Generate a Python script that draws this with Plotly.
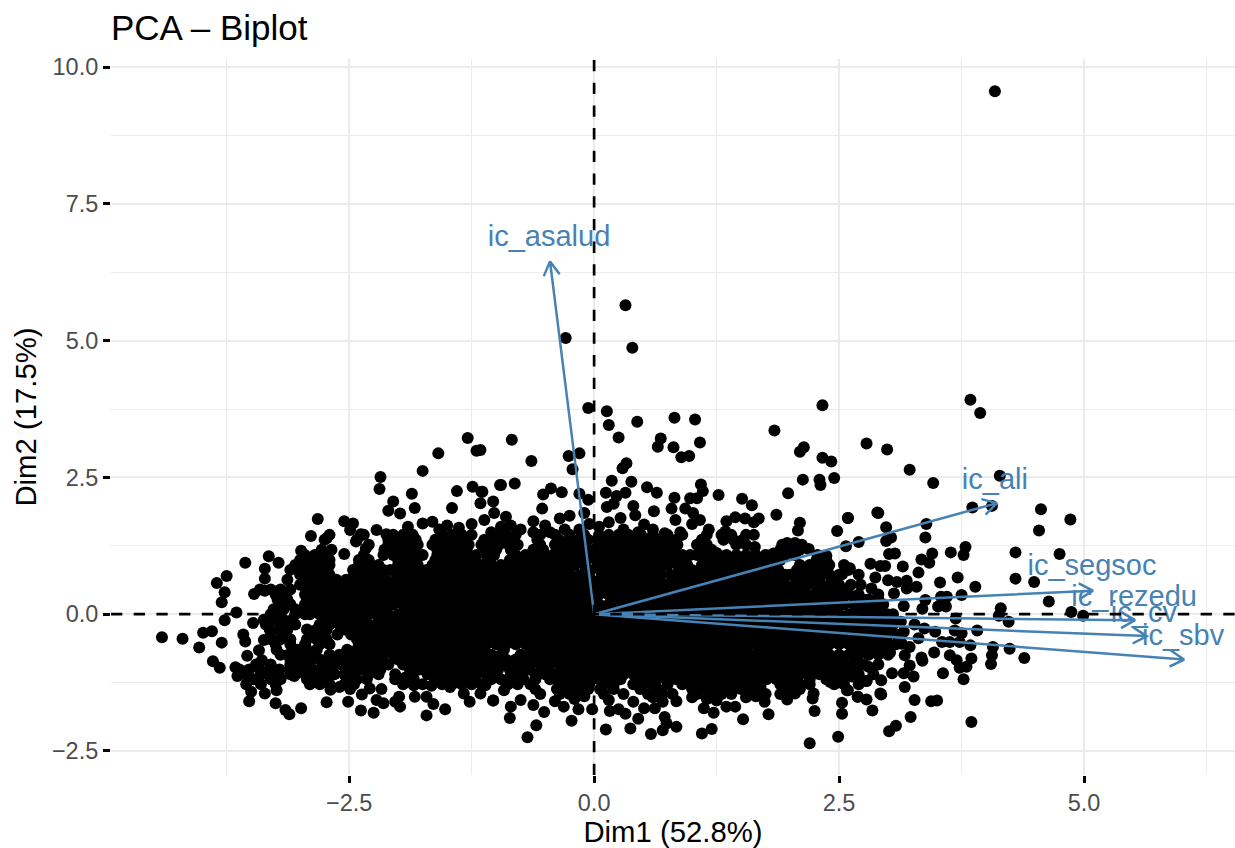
import math
import plotly.graph_objects as go

TITLE = "PCA – Biplot"
X_LABEL = "Dim1 (52.8%)"
Y_LABEL = "Dim2 (17.5%)"
X_RANGE = [-4.93, 6.54]
Y_RANGE = [-2.94, 10.15]
X_TICKS = [-2.5, 0, 2.5, 5]
Y_TICKS = [-2.5, 0, 2.5, 5, 7.5, 10]

var_names = ["ic_asalud", "ic_ali", "ic_segsoc", "ic_rezedu", "ic_cv", "ic_sbv"]
var_dim1 = [-0.45, 4.11, 5.09, 5.52, 5.64, 6.02]
var_dim2 = [6.45, 2.03, 0.43, -0.11, -0.40, -0.83]
label_dim1 = [-0.46, 4.09, 5.08, 5.51, 5.61, 6.01]
label_dim2 = [6.86, 2.43, 0.84, 0.29, -0.01, -0.43]

outliers = [(4.09,9.56),(0.32,5.65),(0.39,4.87),(-0.29,5.05),(3.84,3.92),(3.94,3.68),(2.33,3.82),(1.84,3.36),
(-0.06,3.77),(0.13,3.71),(0.15,3.46),(0.44,3.52),(0.82,3.59),(1.03,3.56),(0.25,3.23),(-0.84,3.19),(-1.16,3.0),(-1.29,3.22),
(2.78,3.12),(2.99,3.01),(3.22,2.64),(3.46,2.40),(4.14,2.53),(3.86,1.95),(4.06,1.98),(4.56,1.92),(4.86,1.73),(4.54,1.53),
(4.30,1.13),(4.75,1.10),(4.30,0.65),(4.49,0.59),(4.64,0.23),(4.87,0.04),(4.99,-0.03),(2.20,-2.36),(2.49,-2.24),(3.85,-1.97)]

left_edge = [(-4.41,-0.42),(-4.20,-0.45),(-4.03,-0.61),(-3.99,-0.34),(-3.90,-0.31),(-3.80,-0.52),(-3.89,-0.86),(-3.82,-0.98),
(-3.77,-0.11),(-3.65,0.03),(-3.80,0.22),(-3.77,0.40),(-3.85,0.57),(-3.75,0.70),(-3.56,0.94),(-3.32,1.06),(-3.22,0.94),(-3.36,0.83),
(-3.36,0.65),(-3.47,0.37),(-3.36,0.43),(-3.25,0.39),(-3.48,-0.16),(-3.58,-0.37),(-3.56,-0.50),(-3.37,-0.47),(-3.42,-0.66),(-3.54,-0.76),
(-3.66,-0.97),(-3.64,-1.13),(-3.53,-1.18),(-3.39,-0.84),(-3.50,-1.42),(-3.52,-1.59),(-3.36,-1.45),(-3.25,-1.63),(-3.15,-1.75),(-3.11,-1.83),
(-2.99,-1.72),(-3.24,-1.39),(-3.22,-1.08),(-3.30,-1.14),(-3.06,-1.13),(-2.73,-1.61),(-2.51,-1.60),(-2.38,-1.76),(-2.25,-1.80),(-2.69,-1.38),
(-2.60,-1.33),(-2.49,-1.37),(-2.37,-1.47),(-2.29,-1.36),(-2.17,-1.37),(-2.22,-1.57),(-2.15,-1.63),(-2.03,-1.60),(-1.98,-1.69),(-1.99,-1.51),
(-1.83,-1.51),(-1.71,-1.51),(-1.64,-1.64),(-1.52,-1.74),(-1.71,-1.85),(-1.66,-1.31),(-1.33,-1.45),(-1.27,-1.60),(-1.16,-1.45),(-1.03,-1.58),
(-1.47,-1.33),(-1.84,-1.30),(-1.93,-1.16),(-2.03,-1.10),(-2.82,1.74),(-2.89,1.43),(-2.73,1.39),(-2.99,1.16),(-2.55,1.70),(-2.46,1.66),
(-2.49,1.54),(-2.38,1.46),(-2.43,1.33),(-2.33,1.20),(-2.55,1.10),(-2.22,1.54),(-2.12,1.46),(-2.18,2.51),(-2.19,2.29),(-1.75,2.62),
(-1.59,2.94),(-1.20,2.99),(-1.86,2.20),(-2.05,2.06),(-1.83,1.94),(-2.10,1.89),(-1.98,1.84),(-1.40,2.25),(-1.24,2.33),(-1.15,2.24),
(-1.16,2.03),(-1.45,1.94),(-1.03,2.06),(-0.96,2.36),(-1.65,1.69),(-1.58,1.55),(-1.50,1.62),(-1.38,1.58),(-1.25,1.65),(-1.12,1.72),
(-1.90,1.60),(-1.75,1.66),(-0.95,1.60),(-0.90,1.78),(-1.02,1.85)]

top_edge = [(-0.64,2.80),(-0.26,2.89),(-0.15,2.94),(-0.22,2.65),(0.68,3.21),(0.65,3.06),(0.81,3.05),(1.08,3.14),(0.89,2.87),(0.97,2.89),
(0.33,2.76),(0.29,2.67),(2.14,3.05),(2.10,2.97),(2.33,2.86),(2.42,2.79),(2.13,2.46),(2.30,2.46),(2.31,2.36),(2.45,2.49),(1.98,2.21),
(0.18,2.44),(0.38,2.42),(0.54,2.32),(0.64,2.22),(1.09,2.37),(1.11,2.25),(1.27,2.18),(1.51,2.11),(1.61,1.99),(1.86,1.82),(2.59,1.76),
(2.89,1.86),(2.48,1.52),(2.10,1.67),(2.08,1.53),(2.70,1.32),(2.57,1.24),(-0.95,2.36),(-0.81,2.39),(-1.14,2.24),(-0.52,2.19),(-0.44,2.30),
(-0.33,2.23),(-0.53,1.93),(-0.15,2.20),(-0.06,2.09),(0.12,2.22),(0.32,2.22),(0.23,2.16),(0.13,1.96),(0.20,2.02),(0.40,1.98),(0.42,1.81),
(0.27,1.76),(0.61,1.88),(0.82,2.13),(0.98,2.12),(1.05,2.12),(0.79,1.93),(0.93,1.93),(1.01,1.85),(1.08,1.72),(1.00,1.65),(0.51,1.64),
(0.83,1.72),(1.17,1.55),(1.35,1.70),(1.44,1.77),(1.54,1.75),(1.68,1.75),(1.63,1.68),(1.63,1.45),(1.34,1.51),(1.49,1.32),(1.10,1.30),
(1.64,1.23),(1.25,1.12),(1.97,1.30),(2.05,1.30),(2.19,1.19),(2.37,1.07),(2.29,0.93),(1.83,1.11),(1.73,1.02),
(-0.75,1.55),(-0.85,1.62),(-0.62,1.70),(-0.50,1.62),(-0.35,1.75),(-0.25,1.80),(-0.10,1.85),(-0.05,1.65),(-0.45,1.50),(-0.30,1.55),
(-0.15,1.55),(0.05,1.60),(0.15,1.68),(0.30,1.55),(0.45,1.50),(0.60,1.55),(0.72,1.48),(0.88,1.50),(-1.05,1.50),(-0.62,1.50)]

bottom_edge = [(-0.68,-2.25),(-0.59,-2.03),(-0.86,-1.90),(-1.03,-1.58),(-0.85,-1.69),(-0.51,-1.79),(-0.23,-1.95),(-0.62,-1.66),(-0.31,-1.69),
(-0.16,-1.74),(-0.02,-1.74),(0.12,-2.11),(0.37,-2.09),(0.58,-2.19),(0.70,-2.12),(0.84,-2.06),(1.10,-2.18),(1.20,-2.10),(1.52,-1.92),
(1.78,-1.83),(1.22,-1.80),(1.12,-1.72),(0.45,-1.91),(0.16,-1.77),(0.25,-1.74),(0.32,-1.82),(0.51,-1.72),(0.62,-1.72),(0.72,-1.88),
(0.74,-2.0),(0.84,-1.59),(1.35,-1.69),(1.44,-1.69),(1.74,-1.60),(1.97,-1.56),(2.25,-1.77),(2.53,-1.62),(2.53,-1.82),(2.24,-1.45),
(2.23,-1.54),(2.84,-1.76),(2.78,-1.56),(2.69,-1.51),(2.92,-1.45),(2.58,-1.39),(2.78,-1.22),(2.05,-1.45),(0.15,-1.57),(0.40,-1.60),
(-0.40,-1.59),(-0.75,-1.57),(-1.11,-1.30),(-0.92,-1.39),(2.41,-1.24),(1.15,-1.55),(1.25,-1.58),(1.55,-1.52),(1.65,-1.50),(-0.20,-1.55),
(-0.10,-1.50),(0.60,-1.52),(0.70,-1.60),(1.00,-1.52)]

right_edge = [(2.90,1.85),(2.59,1.76),(3.39,1.65),(2.98,1.59),(3.03,1.40),(2.98,1.34),(3.38,1.40),(3.79,1.23),(3.77,1.08),(3.64,1.13),
(3.45,1.11),(3.34,1.00),(3.42,0.94),(3.01,1.10),(3.07,1.11),(2.82,0.92),(2.97,0.88),(2.92,0.88),(3.15,0.87),(2.61,0.84),(2.53,0.73),
(3.89,0.50),(3.71,0.67),(3.53,0.58),(3.31,0.76),(2.87,0.67),(3.00,0.62),(3.09,0.59),(3.19,0.61),(3.29,0.50),(3.19,0.47),(2.83,0.47),
(3.06,0.38),(3.75,0.35),(3.60,0.32),(3.54,0.32),(2.56,0.38),(3.38,0.26),(3.35,0.10),(3.16,0.15),(3.51,0.14),(3.59,0.14),(2.76,0.26),
(2.70,0.14),(2.83,0.04),(2.93,0.06),(2.99,0.0),(4.15,0.11),(4.13,-0.03),(4.23,-0.14),(3.69,-0.08),(3.13,-0.14),(3.27,-0.19),(3.91,-0.30),
(3.37,-0.26),(3.16,-0.32),(3.48,-0.32),(3.68,-0.30),(3.75,-0.35),(3.31,-0.44),(3.55,-0.51),(3.63,-0.51),(3.73,-0.51),(3.84,-0.57),
(4.07,-0.60),(4.24,-0.63),(4.39,-0.80),(4.06,-0.75),(4.05,-0.91),(3.85,-0.81),(3.47,-0.70),(3.34,-0.79),(3.35,-0.85),(3.63,-0.75),
(3.70,-0.84),(3.73,-0.98),(3.80,-0.96),(3.77,-1.19),(3.56,-1.08),(3.22,-0.60),(3.14,-0.54),(3.17,-0.75),(3.02,-0.70),(2.88,-0.67),
(3.22,-0.94),(3.26,-1.14),(3.17,-1.33),(3.16,-1.08),(3.04,-1.08),(2.93,-1.21),(2.78,-1.22),(2.80,-0.96),(2.66,-0.84),(2.56,-1.02),
(2.63,-1.14),(2.49,-1.21),(2.59,-1.39),(2.69,-1.51),(2.93,-1.47),(3.27,-1.57),(3.44,-1.59),(3.50,-1.58),(3.23,-1.88),(3.08,-2.04),(3.01,-2.14)]

cloud_rows_y = [1.36, 1.18, 0.99, 0.81, 0.63, 0.45, 0.27, 0.09, -0.10, -0.28, -0.46, -0.65, -0.83, -1.01, -1.19, -1.37]
cloud_rows_x = [
[-2.75,-2.42,-2.1,-2.0,-1.9,-1.82,-1.62,-1.52,-1.42,-1.32,-1.12,-1.02,-0.92,-0.82,-0.58,-0.36,-0.26,-0.16,-0.06,0.04,0.14,0.24,0.34,0.44,0.54,0.64,0.74,0.84,1.1,1.32,1.42,1.52],
[-2.78,-2.68,-2.14,-2.04,-1.94,-1.84,-1.6,-1.5,-1.4,-1.3,-1.12,-1.0,-0.85,-0.62,-0.52,-0.38,-0.28,-0.18,-0.08,0.0,0.1,0.2,0.3,0.4,0.5,0.6,0.7,0.82,1.1,1.2,1.9,2.0,2.1],
[-3.0,-2.9,-2.8,-2.7,-2.4,-2.3,-2.0,-1.9,-1.82,-1.62,-1.52,-1.42,-1.32,-1.22,-1.06,-0.86,-0.76,-0.66,-0.58,-0.48,-0.36,-0.28,-0.18,-0.08,0.02,0.12,0.22,0.32,0.42,0.52,0.62,0.72,0.82,0.92,1.15,1.25,1.35,1.45,1.56,1.69,1.79,1.9,2.27,2.37],
[-3.1,-3.0,-2.88,-2.73,-2.46,-2.36,-2.26,-2.15,-2.08,-1.98,-1.88,-1.71,-1.61,-1.51,-1.41,-1.31,-1.21,-1.11,-1.01,-0.91,-0.81,-0.72,-0.58,-0.48,-0.38,-0.28,-0.04,0.06,0.16,0.26,0.36,0.46,0.56,0.67,0.88,1.0,1.15,1.25,1.35,1.45,1.55,1.65,1.75,1.88,2.07,2.17,2.27,2.37,2.6],
[-3.13,-2.93,-2.83,-2.73,-2.63,-2.53,-2.43,-2.33,-2.23,-2.13,-2.03,-1.93,-1.83,-1.73,-1.63,-1.53,-1.43,-1.33,-1.23,-1.13,-1.03,-0.93,-0.83,-0.73,-0.63,-0.53,-0.43,-0.33,-0.23,-0.13,-0.03,0.07,0.17,0.27,0.37,0.47,0.57,0.67,0.81,0.91,1.01,1.11,1.21,1.31,1.41,1.51,1.61,1.71,1.81,1.91,2.07,2.17,2.3,2.46],
[-3.41,-3.3,-3.2,-3.1,-2.93,-2.88,-2.78,-2.68,-2.58,-2.48,-2.38,-2.28,-2.18,-2.08,-1.98,-1.88,-1.78,-1.68,-1.58,-1.48,-1.38,-1.28,-1.18,-1.08,-0.98,-0.88,-0.78,-0.68,-0.58,-0.48,-0.38,-0.28,-0.18,-0.08,0.02,0.12,0.22,0.32,0.42,0.52,0.62,0.72,0.82,0.92,1.02,1.12,1.22,1.32,1.42,1.52,1.62,1.72,1.82,1.94,2.05,2.15,2.32,2.42,2.52],
[-3.23,-3.13,-2.93,-2.83,-2.73,-2.63,-2.53,-2.43,-2.33,-2.23,-2.13,-2.03,-1.93,-1.83,-1.73,-1.63,-1.53,-1.43,-1.33,-1.23,-1.13,-1.03,-0.93,-0.83,-0.73,-0.63,-0.53,-0.43,-0.33,-0.23,-0.13,-0.03,0.22,0.32,0.42,0.52,0.62,0.72,0.82,0.92,1.02,1.12,1.22,1.32,1.42,1.52,1.62,1.72,1.82,1.92,2.02,2.12,2.22,2.32,2.42,2.52,2.7,2.8,2.9],
[-3.27,-3.17,-3.05,-2.95,-2.83,-2.73,-2.63,-2.53,-2.43,-2.33,-2.23,-2.13,-1.92,-1.82,-1.72,-1.62,-1.52,-1.42,-1.32,-1.22,-1.12,-1.02,-0.92,-0.82,-0.72,-0.62,-0.52,-0.42,-0.32,-0.22,-0.12,-0.02,0.08,0.18,0.28,0.38,0.48,0.58,0.68,0.78,0.88,0.98,1.08,1.18,1.28,1.38,1.48,1.58,1.68,1.78,1.88,1.98,2.08,2.18,2.28,2.38,2.48,2.7,2.8,2.9],
[-3.37,-3.27,-3.17,-3.08,-2.76,-2.66,-2.56,-2.46,-2.36,-2.2,-2.1,-2.0,-1.9,-1.8,-1.7,-1.6,-1.5,-1.4,-1.3,-1.2,-1.1,-1.0,-0.9,-0.8,-0.7,-0.6,-0.5,-0.4,-0.3,-0.2,-0.1,0.0,0.1,0.2,0.3,0.4,0.5,0.6,0.7,0.8,0.9,1.0,1.1,1.2,1.3,1.4,1.5,1.6,1.7,1.8,1.9,2.0,2.1,2.2,2.3,2.4,2.5,2.6,2.7,2.8,2.9,3.0],
[-3.31,-3.21,-3.13,-2.93,-2.83,-2.73,-2.55,-2.46,-2.33,-2.25,-2.15,-2.05,-1.95,-1.85,-1.75,-1.65,-1.55,-1.45,-1.35,-1.25,-1.15,-1.05,-0.95,-0.85,-0.75,-0.65,-0.55,-0.45,-0.35,-0.25,-0.15,-0.05,0.05,0.15,0.25,0.35,0.45,0.55,0.65,0.75,0.85,0.95,1.05,1.15,1.25,1.35,1.45,1.55,1.65,1.75,1.85,1.95,2.05,2.15,2.25,2.35,2.45,2.55,2.65,2.75,2.85,2.95],
[-3.3,-3.2,-3.1,-2.93,-2.83,-2.73,-2.42,-2.32,-2.22,-2.12,-2.02,-1.92,-1.82,-1.72,-1.62,-1.52,-1.42,-1.32,-1.22,-1.12,-1.02,-0.92,-0.82,-0.72,-0.62,-0.52,-0.42,-0.32,-0.22,-0.12,-0.02,0.08,0.18,0.28,0.38,0.48,0.58,0.68,0.78,0.88,0.98,1.08,1.18,1.28,1.38,1.48,1.58,1.68,1.78,1.88,1.98,2.08,2.18,2.28,2.38,2.48,2.58,2.68,2.78,2.88,2.98],
[-3.24,-3.03,-2.93,-2.83,-2.52,-2.42,-2.32,-2.22,-2.12,-2.02,-1.92,-1.82,-1.72,-1.62,-1.52,-1.42,-1.32,-1.22,-1.12,-0.92,-0.65,-0.55,-0.45,-0.35,-0.25,-0.15,-0.05,0.05,0.15,0.25,0.35,0.45,0.55,0.65,0.75,0.85,0.95,1.05,1.15,1.25,1.35,1.45,1.55,1.69,1.79,1.89,1.99,2.09,2.19,2.29,2.37,2.68,2.78,2.92],
[-3.1,-3.0,-2.9,-2.8,-2.7,-2.56,-2.46,-2.36,-2.26,-2.16,-2.0,-1.9,-1.8,-1.7,-1.6,-1.5,-1.4,-1.3,-1.2,-1.1,-1.0,-0.9,-0.8,-0.7,-0.6,-0.5,-0.4,-0.3,-0.2,-0.1,0.0,0.1,0.2,0.3,0.4,0.5,0.6,0.7,0.8,0.9,1.0,1.1,1.2,1.3,1.4,1.5,1.6,1.7,1.8,1.9,2.0,2.1,2.2,2.3,2.4,2.5],
[-3.62,-3.52,-3.41,-3.31,-3.21,-3.1,-3.0,-2.9,-2.8,-2.68,-2.46,-2.36,-2.26,-2.18,-1.88,-1.78,-1.66,-1.55,-1.45,-1.35,-1.25,-1.15,-1.05,-0.98,-0.86,-0.76,-0.66,-0.5,-0.3,-0.2,-0.1,0.0,0.1,0.2,0.3,0.4,0.5,0.6,0.7,0.8,0.9,1.0,1.1,1.2,1.3,1.4,1.5,1.6,1.7,1.8,1.9,2.0,2.1,2.2,2.27,2.38,2.48,2.58,2.68],
[-3.48,-3.3,-3.2,-2.93,-2.83,-2.73,-2.52,-2.42,-2.32,-2.03,-1.93,-1.84,-1.62,-1.52,-1.42,-1.32,-1.22,-1.05,-0.95,-0.82,-0.72,-0.6,-0.45,-0.35,-0.25,-0.15,-0.05,0.05,0.15,0.27,0.44,0.54,0.64,0.74,0.84,0.94,1.04,1.14,1.24,1.34,1.44,1.54,1.64,1.76,1.86,1.96,2.06,2.2,2.37,2.5],
[-0.6,-0.38,-0.28,-0.18,-0.06,0.06,0.2,0.47,0.65,1.0,1.1,1.2,1.3,1.4,1.5,1.6,1.7,1.97,2.1],
]

between_rows_y = [1.27, 1.08, 0.90, 0.72, 0.54, 0.36, 0.18, 0.0, -0.19, -0.37, -0.55, -0.74, -0.92, -1.10]
between_rows_x = [
[-2.1,-2.0,-1.9,-1.55,-1.45,-1.35,-0.97,-0.87,-0.3,-0.2,-0.1,0.05,0.15,0.25,0.35,0.45,0.55,0.65,0.75],
[-2.95,-2.75,-2.05,-1.95,-1.85,-1.6,-1.5,-1.4,-0.8,-0.7,-0.3,-0.2,0.0,0.1,0.2,0.3,0.4,0.5,0.6,0.7,0.8,1.25,1.35,1.45,1.75],
[-3.05,-2.95,-2.8,-2.4,-2.3,-2.0,-1.9,-1.65,-1.55,-1.45,-1.35,-1.25,-1.15,-0.85,-0.75,-0.65,-0.5,-0.4,-0.2,-0.1,0.05,0.15,0.25,0.35,0.45,0.55,0.65,1.2,1.3,1.4,1.5,1.85,2.3],
[-3.0,-2.9,-2.7,-2.45,-2.35,-2.25,-2.0,-1.9,-1.75,-1.65,-1.55,-1.45,-1.35,-1.25,-1.15,-1.05,-0.95,-0.85,-0.75,-0.65,-0.55,-0.45,-0.35,-0.25,-0.15,-0.05,0.08,0.18,0.28,0.38,0.48,0.58,0.85,0.95,1.05,1.15,1.25,1.35,1.45,1.55,1.65,1.75,1.85,2.1,2.2,2.3],
[-2.85,-2.75,-2.65,-2.55,-2.45,-2.35,-2.25,-2.15,-2.05,-1.95,-1.85,-1.75,-1.65,-1.55,-1.45,-1.35,-1.25,-1.15,-1.05,-0.95,-0.85,-0.75,-0.65,-0.55,-0.45,-0.35,-0.25,-0.15,-0.05,0.05,0.15,0.25,0.35,0.45,0.55,0.65,0.85,0.95,1.05,1.15,1.25,1.35,1.45,1.55,1.65,1.75,1.85,1.95],
[-2.85,-2.75,-2.65,-2.55,-2.45,-2.35,-2.25,-2.15,-2.05,-1.95,-1.85,-1.75,-1.65,-1.55,-1.45,-1.35,-1.25,-1.15,-1.05,-0.95,-0.85,-0.75,-0.65,-0.55,-0.45,-0.35,-0.25,-0.15,-0.05,0.05,0.15,0.25,0.35,0.45,0.55,0.65,0.75,0.85,0.95,1.05,1.15,1.25,1.35,1.45,1.55,1.65,1.75,1.85,1.95,2.05],
[-2.85,-2.75,-2.65,-2.55,-2.45,-2.35,-2.25,-2.15,-2.05,-1.95,-1.85,-1.75,-1.65,-1.55,-1.45,-1.35,-1.25,-1.15,-1.05,-0.95,-0.85,-0.75,-0.65,-0.55,-0.45,-0.35,-0.25,-0.15,-0.05,0.25,0.35,0.45,0.55,0.65,0.75,0.85,0.95,1.05,1.15,1.25,1.35,1.45,1.55,1.65,1.75,1.85,1.95,2.05,2.15,2.25,2.35,2.45],
[-2.8,-2.7,-2.6,-2.5,-2.4,-2.3,-2.2,-1.9,-1.8,-1.7,-1.6,-1.5,-1.4,-1.3,-1.2,-1.1,-1.0,-0.9,-0.8,-0.7,-0.6,-0.5,-0.4,-0.3,-0.2,-0.1,0.0,0.1,0.2,0.3,0.4,0.5,0.6,0.7,0.8,0.9,1.0,1.1,1.2,1.3,1.4,1.5,1.6,1.7,1.8,1.9,2.0,2.1,2.2,2.3,2.4,2.5],
[-2.7,-2.6,-2.5,-2.4,-2.2,-2.1,-2.0,-1.9,-1.8,-1.7,-1.6,-1.5,-1.4,-1.3,-1.2,-1.1,-1.0,-0.9,-0.8,-0.7,-0.6,-0.5,-0.4,-0.3,-0.2,-0.1,0.0,0.1,0.2,0.3,0.4,0.5,0.6,0.7,0.8,0.9,1.0,1.1,1.2,1.3,1.4,1.5,1.6,1.7,1.8,1.9,2.0,2.1,2.2,2.3,2.4,2.5,2.6,2.7,2.8,2.9],
[-2.9,-2.75,-2.3,-2.2,-2.1,-2.0,-1.9,-1.8,-1.7,-1.6,-1.5,-1.4,-1.3,-1.2,-1.1,-1.0,-0.9,-0.8,-0.7,-0.6,-0.5,-0.4,-0.3,-0.2,-0.1,0.0,0.1,0.2,0.3,0.4,0.5,0.6,0.7,0.8,0.9,1.0,1.1,1.2,1.3,1.4,1.5,1.6,1.7,1.8,1.9,2.0,2.1,2.2,2.3,2.4,2.5,2.6,2.7,2.8,2.9],
[-2.95,-2.8,-2.3,-2.2,-2.1,-2.0,-1.9,-1.8,-1.7,-1.6,-1.5,-1.4,-1.3,-1.2,-1.1,-1.0,-0.9,-0.8,-0.7,-0.6,-0.5,-0.4,-0.3,-0.2,-0.1,0.0,0.1,0.2,0.3,0.4,0.5,0.6,0.7,0.8,0.9,1.0,1.1,1.2,1.3,1.4,1.5,1.6,1.7,1.8,1.9,2.0,2.1,2.2,2.3,2.4,2.5,2.6,2.7,2.8,2.9],
[-3.05,-2.95,-2.85,-2.7,-2.45,-2.35,-2.25,-2.15,-2.05,-1.95,-1.85,-1.75,-1.65,-1.55,-1.45,-1.35,-1.25,-1.15,-1.05,-0.6,-0.5,-0.4,-0.3,-0.2,-0.1,0.0,0.1,0.2,0.3,0.4,0.5,0.6,0.7,0.8,0.9,1.0,1.1,1.2,1.3,1.4,1.5,1.6,1.7,1.8,1.9,2.0,2.1,2.2,2.3,2.6,2.7,2.8,2.9],
[-3.1,-3.0,-2.9,-2.75,-2.65,-2.5,-2.4,-2.3,-2.2,-1.95,-1.85,-1.75,-1.65,-1.55,-1.45,-1.35,-1.25,-1.15,-1.05,-0.95,-0.85,-0.75,-0.65,-0.55,-0.45,-0.35,-0.25,-0.15,-0.05,0.05,0.15,0.25,0.35,0.45,0.55,0.65,0.75,0.85,0.95,1.05,1.15,1.25,1.35,1.45,1.55,1.65,1.75,1.85,1.95,2.05,2.15,2.25,2.35,2.45],
[-3.4,-3.25,-3.05,-2.95,-2.85,-2.75,-2.45,-2.3,-1.7,-1.6,-1.5,-1.4,-1.3,-1.2,-1.1,-0.85,-0.75,-0.6,-0.3,-0.2,-0.1,0.0,0.1,0.2,0.3,0.4,0.5,0.6,0.7,0.8,0.9,1.0,1.1,1.2,1.3,1.4,1.5,1.6,1.7,1.8,1.9,2.0,2.1,2.2,2.4,2.5,2.6],
]

extra_rows_y = [1.45, 1.27, 1.08, 0.90, 0.72, 0.54, 0.36, 0.18, 0.0, -0.19, -0.37, -0.55, -0.74, -0.92, -1.10, -1.28, -1.46]
extra_rows_x = [
[-2.7,-2.35,-2.05,-1.95,-1.85,-1.55,-1.45,-1.35,-1.25,-1.0,-0.9,-0.8,-0.55,-0.4,-0.25,-0.1,0.05,0.15,0.25,0.35,0.48,0.6,0.75,0.9,1.15,1.3,1.4,1.55],
[-2.3,-1.8,-1.65,-1.28,-1.15,-1.07,-0.78,-0.55,-0.4,0.85,1.05,1.15,1.45,1.55,1.92,2.02,2.12],
[-2.85,-2.35,-2.15,-1.75,-1.3,-1.2,-1.1,-1.02,-0.6,-0.5,-0.42,-0.1,0.9,0.98,1.05,1.15,1.55,1.65,1.95,2.05,2.28],
[-2.7,-2.2,-1.8,-1.05,-0.95,-0.58,-0.3,0.75,0.85,0.95,1.1,1.6,1.7,1.78,2.1,2.2,2.4,2.55],
[-2.8,-2.15,-1.82,0.68,0.78,1.95,2.0,2.4,2.5,2.7],
[-3.0,-2.95,0.75,2.05,2.15,2.25,2.4,2.5,2.62,2.72],
[-3.25,-3.15,-2.95,0.15,2.15,2.25,2.35,2.45,2.6,2.7,2.9],
[-3.2,-3.1,-2.95,0.05,0.15,2.55,2.65,2.75,2.85,2.95],
[-3.3,-3.2,-3.05,-2.95,-2.9,-2.1,-2.0,2.6,2.7,2.8,2.9,3.05],
[-3.35,-3.2,-3.05,-2.8,-2.3,3.0,3.05],
[-3.3,-3.15,-2.62,-2.48,-2.4,3.0,3.08],
[-3.25,-3.1,-2.7,-2.4,3.0,3.08],
[-3.2,-3.12,-2.6,-2.55,-0.95,-0.75,2.4,2.5,3.0],
[-3.45,-3.3,-2.58,-2.1,2.55,2.65,2.75,2.9],
[-3.55,-3.1,-2.65,-2.55,-2.2,-1.85,-1.0,-0.5,-0.4,2.3,2.7,2.85],
[-3.55,-3.4,-3.25,-2.9,-2.8,-2.7,-2.55,-2.45,-1.95,-1.75,-1.55,-1.45,-1.35,-1.25,-1.15,-0.88,-0.78,-0.65,-0.35,-0.25,-0.15,-0.05,0.1,0.2,0.4,0.5,0.6,0.75,0.9,1.0,1.1,1.2,1.3,1.4,1.5,1.6,1.7,1.9,2.0,2.1,2.2,2.45,2.55,2.7],
[-0.55,-0.35,-0.25,-0.1,0.1,0.3,0.55,0.7,0.8,1.05,1.2,1.3,1.4,1.65,1.75,1.9],
]

dim1 = []
dim2 = []
for group in (outliers, left_edge, top_edge, bottom_edge, right_edge):
    for px_, py_ in group:
        dim1.append(px_)
        dim2.append(py_)
for rows_y, rows_x in ((cloud_rows_y, cloud_rows_x), (between_rows_y, between_rows_x), (extra_rows_y, extra_rows_x)):
    for row_y, row_x in zip(rows_y, rows_x):
        for v in row_x:
            dim1.append(v)
            dim2.append(row_y)

W, H = 1235, 848
L, R, T, B = 111, 0, 59, 73
INK = "black"
STEEL = "#4682B4"
GRID = "#EBEBEB"
TICK_GREY = "#4D4D4D"
FONT = "Liberation Sans"
px_x = (W - L - R) / (X_RANGE[1] - X_RANGE[0])
px_y = (H - T - B) / (Y_RANGE[1] - Y_RANGE[0])

fig = go.Figure()
fig.add_trace(go.Scatter(x=dim1, y=dim2, mode="markers", hoverinfo="skip",
                         marker=dict(color=INK, size=12, line=dict(width=0))))

HEAD_LEN, HEAD_ANG = 16, math.radians(30)
for xt, yt in zip(var_dim1, var_dim2):
    ang = math.atan2(yt * px_y, xt * px_x)
    xs = [0, xt]
    ys = [0, yt]
    for sgn in (1, -1):
        a = ang + math.pi + sgn * HEAD_ANG
        xs += [xt + HEAD_LEN * math.cos(a) / px_x, xt]
        ys += [yt + HEAD_LEN * math.sin(a) / px_y, yt]
    fig.add_trace(go.Scatter(x=xs, y=ys, mode="lines", hoverinfo="skip",
                             line=dict(color=STEEL, width=2.5)))

fig.add_trace(go.Scatter(x=label_dim1, y=label_dim2, text=var_names, mode="text", hoverinfo="skip",
                         textposition="middle center",
                         textfont=dict(family=FONT, size=29, color=STEEL)))

DASH = "11.3px,11.4px"
fig.add_trace(go.Scatter(x=X_RANGE, y=[0, 0], mode="lines", hoverinfo="skip",
                         line=dict(color=INK, width=2.7, dash=DASH)))
fig.add_trace(go.Scatter(x=[0, 0], y=Y_RANGE, mode="lines", hoverinfo="skip",
                         line=dict(color=INK, width=2.7, dash=DASH)))

def axis(rng, ticks, title, standoff):
    return dict(range=rng, tickvals=ticks, tickformat=".1f", showgrid=True, gridcolor=GRID, gridwidth=2.2,
                zeroline=False, showline=False, ticks="outside", ticklen=7, tickwidth=2.5, tickcolor=INK,
                tickfont=dict(family=FONT, size=23.5, color=TICK_GREY),
                title=dict(text=title, font=dict(family=FONT, size=29.3, color=INK), standoff=standoff),
                minor=dict(tick0=1.25, dtick=2.5, showgrid=True, gridcolor=GRID, gridwidth=1.1, ticklen=0),
                automargin=False)

fig.update_layout(
    width=W, height=H, margin=dict(l=L, r=R, t=T, b=B, pad=0, autoexpand=False),
    paper_bgcolor="white", plot_bgcolor="white", showlegend=False,
    title=dict(text=TITLE, font=dict(family=FONT, size=35, color=INK), xref="container", yref="container",
               x=111 / W, xanchor="left", y=1 - 28 / H, yanchor="middle"),
    xaxis=axis(X_RANGE, X_TICKS, X_LABEL, 7),
    yaxis=axis(Y_RANGE, Y_TICKS, Y_LABEL, 6),
)
fig.write_html("out.html", config=dict(displayModeBar=False),
               post_script="document.body.style.margin='0';")
